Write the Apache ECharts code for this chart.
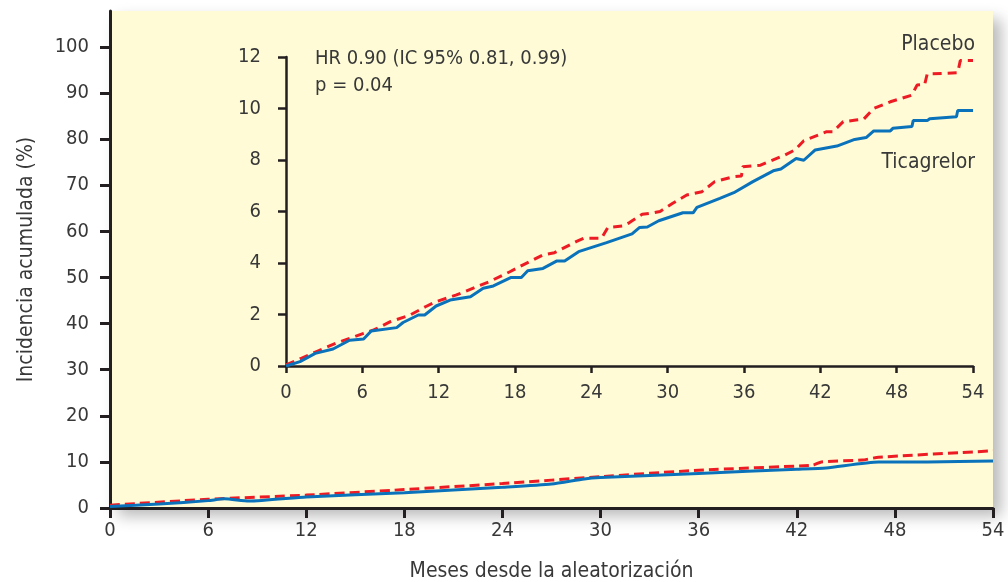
<!DOCTYPE html>
<html>
<head>
<meta charset="utf-8">
<script src="https://cdn.jsdelivr.net/npm/echarts@6/dist/echarts.min.js"></script>
<style>
  html, body { margin: 0; padding: 0; background: #fff; }
  #chart { width: 1008px; height: 582px; }
</style>
</head>
<body>
<div id="chart"></div>
<script>
// main chart (0-100 %)
const mainMonthsTica = [0, 3, 6, 7, 8.5, 12, 18, 24, 27, 29, 30, 36, 42, 43.8, 47, 50, 54];
const mainTica = [0.3, 0.85, 1.6, 2.0, 1.5, 2.4, 3.3, 4.5, 5.2, 6.3, 6.6, 7.5, 8.4, 8.7, 10.0, 10.0, 10.2];
const mainMonthsPlac = [0, 6, 12, 18, 24, 30, 36, 43, 43.5, 46, 47, 54];
const mainPlac = [0.6, 1.9, 2.8, 4.0, 5.3, 6.8, 8.2, 9.3, 10.0, 10.4, 11.0, 12.4];

// inset (0-12 %)
const insetMonthsTica = [0, 1.1, 2.3, 3.7, 5.0, 6.1, 6.7, 8.7, 9.2, 10.4, 10.9, 11.8, 12.9, 14.5, 15.5, 16.3, 17.7, 18.5, 19.0, 20.2, 21.3, 21.9, 23.0, 25.2, 27.2, 27.8, 28.4, 29.3, 31.2, 32.0, 32.3, 34.1, 35.2, 36.7, 38.3, 38.9, 40.1, 40.7, 41.6, 43.3, 44.7, 45.6, 46.2, 47.5, 47.7, 49.2, 49.3, 50.4, 50.6, 52.7, 52.8, 54];
const insetTica = [0, 0.17, 0.49, 0.66, 1.0, 1.05, 1.36, 1.49, 1.69, 1.98, 1.98, 2.33, 2.56, 2.69, 3.02, 3.11, 3.44, 3.44, 3.70, 3.79, 4.08, 4.08, 4.44, 4.79, 5.13, 5.38, 5.40, 5.64, 5.95, 5.95, 6.16, 6.51, 6.73, 7.16, 7.58, 7.65, 8.06, 7.99, 8.39, 8.54, 8.80, 8.87, 9.13, 9.13, 9.23, 9.30, 9.53, 9.53, 9.60, 9.68, 9.92, 9.92];
const insetMonthsPlac = [0, 1.2, 2.4, 3.9, 6.1, 6.9, 8.2, 9.75, 11, 11.8, 13.4, 15, 16, 17.6, 18.6, 20.2, 21.1, 21.5, 22.8, 23.4, 24.8, 25.3, 26.5, 27.0, 28.0, 28.9, 29.4, 30.4, 31.5, 32.7, 33.7, 35.2, 35.8, 35.9, 37.3, 39.2, 40.0, 40.7, 42.5, 43.0, 43.8, 44.8, 45.4, 46.2, 47.5, 49.2, 49.6, 50.2, 50.4, 52.8, 53.0, 54];
const insetPlac = [0.04, 0.3, 0.56, 0.88, 1.27, 1.40, 1.72, 1.98, 2.31, 2.50, 2.76, 3.08, 3.28, 3.66, 3.92, 4.31, 4.40, 4.5, 4.83, 4.96, 4.96, 5.38, 5.44, 5.57, 5.89, 5.95, 6.0, 6.32, 6.64, 6.77, 7.16, 7.35, 7.38, 7.74, 7.80, 8.19, 8.39, 8.75, 9.10, 9.10, 9.49, 9.55, 9.58, 10.0, 10.26, 10.52, 10.91, 10.93, 11.34, 11.39, 11.86, 11.86];

const mainYTicks = [0, 10, 20, 30, 40, 50, 60, 70, 80, 90, 100];

const FONT = "'DejaVu Sans Condensed', sans-serif";
const TXT = '#383838';
const AX = '#231f20';
const RED = '#ed1c24';
const BLUE = '#0a72bb';

function zip(xs, ys) {
    return xs.map((x, i) => [x, ys[i]]);
}

let myChart = echarts.init(document.getElementById('chart'));

let option = {
    backgroundColor: '#ffffff',
    animation: false,
    grid: [
        {
            left: 110, right: 15, top: 11, bottom: 74,
            outerBoundsMode: 'none',
            show: true,
            backgroundColor: '#fefbd6',
            borderWidth: 0,
            shadowBlur: 14,
            shadowColor: 'rgba(0,0,0,0.28)',
            shadowOffsetX: 8,
            shadowOffsetY: 8
        },
        { left: 286, right: 35, top: 57, bottom: 216, outerBoundsMode: 'none' }
    ],
    xAxis: [
        {
            gridIndex: 0, type: 'value', min: 0, max: 54, interval: 6,
            name: 'Meses desde la aleatorización', nameLocation: 'middle', nameGap: 53,
            nameTextStyle: { fontFamily: FONT, fontSize: 21, color: TXT },
            axisLine: { lineStyle: { color: AX, width: 3 } },
            axisTick: { length: 10, lineStyle: { color: AX, width: 3 } },
            axisLabel: { fontFamily: FONT, fontSize: 20, color: TXT, margin: 13 },
            splitLine: { show: false }
        },
        {
            gridIndex: 1, type: 'value', min: 0, max: 54, interval: 6,
            axisLine: { onZero: false, lineStyle: { color: AX, width: 2.5 } },
            axisTick: { length: 7, lineStyle: { color: AX, width: 2.5 } },
            axisLabel: { fontFamily: FONT, fontSize: 20, color: TXT, margin: 17 },
            splitLine: { show: false }
        }
    ],
    yAxis: [
        {
            gridIndex: 0, type: 'value', min: 0, max: 107.8,
            name: 'Incidencia acumulada (%)', nameLocation: 'middle', nameGap: 73,
            nameTextStyle: { fontFamily: FONT, fontSize: 21, color: TXT },
            axisLine: { show: true, lineStyle: { color: AX, width: 3 } },
            axisTick: { show: true, length: 10, customValues: mainYTicks, lineStyle: { color: AX, width: 3 } },
            axisLabel: { fontFamily: FONT, fontSize: 20, color: TXT, margin: 21, customValues: mainYTicks },
            splitLine: { show: false }
        },
        {
            gridIndex: 1, type: 'value', min: 0, max: 12, interval: 2,
            axisLine: { show: true, lineStyle: { color: AX, width: 2.5 } },
            axisTick: { show: true, length: 8, lineStyle: { color: AX, width: 2.5 } },
            axisLabel: { fontFamily: FONT, fontSize: 20, color: TXT, margin: 25 },
            splitLine: { show: false }
        }
    ],
    series: [
        {
            name: 'Placebo', type: 'line', xAxisIndex: 0, yAxisIndex: 0,
            data: zip(mainMonthsPlac, mainPlac), showSymbol: false, smooth: 0.2,
            lineStyle: { color: RED, width: 3, type: [10, 5] }, z: 3
        },
        {
            name: 'Ticagrelor', type: 'line', xAxisIndex: 0, yAxisIndex: 0,
            data: zip(mainMonthsTica, mainTica), showSymbol: false, smooth: 0.2,
            lineStyle: { color: BLUE, width: 3 }, z: 4
        },
        {
            name: 'Placebo', type: 'line', xAxisIndex: 1, yAxisIndex: 1,
            data: zip(insetMonthsPlac, insetPlac), showSymbol: false,
            lineStyle: { color: RED, width: 3, type: [9, 6] }, z: 3
        },
        {
            name: 'Ticagrelor', type: 'line', xAxisIndex: 1, yAxisIndex: 1,
            data: zip(insetMonthsTica, insetTica), showSymbol: false,
            lineStyle: { color: BLUE, width: 3 }, z: 4
        }
    ],
    graphic: [
        {
            type: 'text', left: 315, top: 45,
            style: { text: 'HR 0.90 (IC 95% 0.81, 0.99)\np = 0.04', fontFamily: FONT, fontSize: 20, fill: TXT, lineHeight: 27 }
        },
        {
            type: 'text', right: 33, top: 34,
            style: { text: 'Placebo', fontFamily: FONT, fontSize: 21, fill: TXT }
        },
        {
            type: 'text', right: 33, top: 152,
            style: { text: 'Ticagrelor', fontFamily: FONT, fontSize: 21, fill: TXT }
        }
    ]
};

myChart.setOption(option);
</script>
</body>
</html>
